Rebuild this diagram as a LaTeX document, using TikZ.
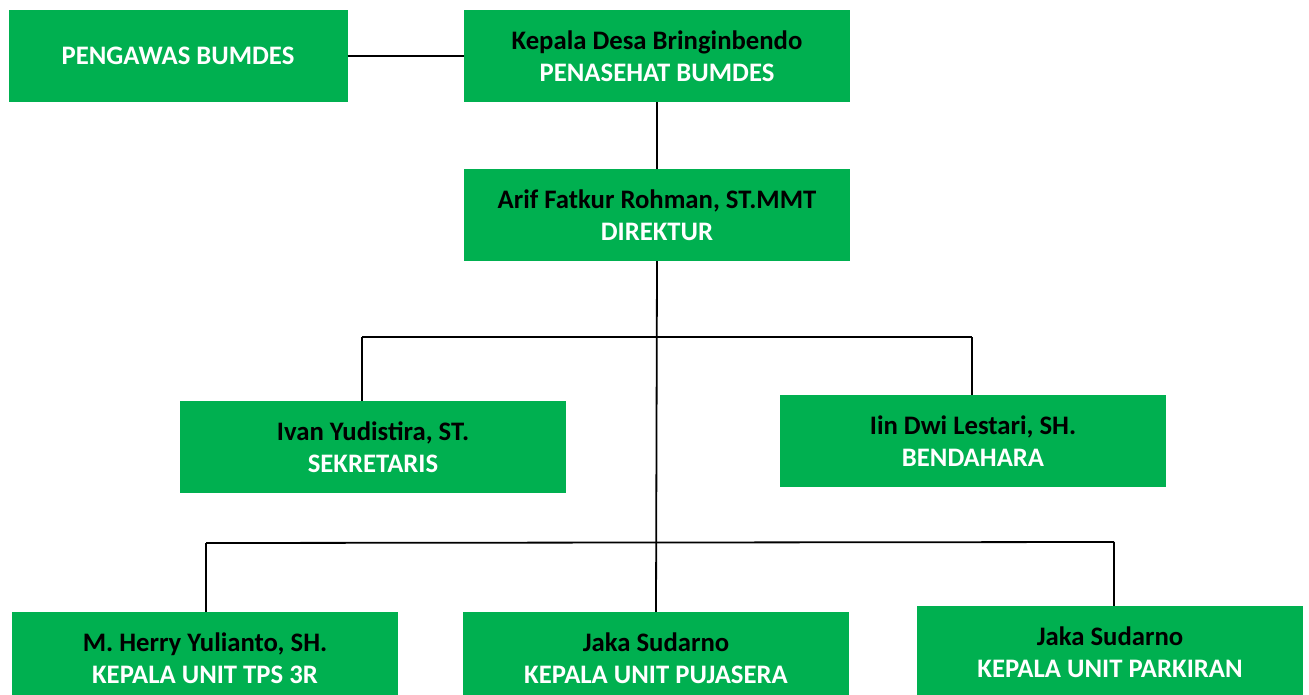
\documentclass[tikz,border=0pt]{standalone}
\usepackage{fontspec}
\setmainfont{Carlito}
\definecolor{boxgreen}{HTML}{00B050}
\begin{document}
\begin{tikzpicture}[x=1pt,y=-1pt,
  orgbox/.style={fill=boxgreen, draw=none, minimum width=386pt, minimum height=92pt, inner sep=0pt, align=center,
    font=\fontsize{26.7}{32}\selectfont\bfseries},
  link/.style={draw=black, line width=1.8pt}]
\clip (0,0) rectangle (1309,695);
\fill[white] (0,0) rectangle (1309,695);
\node[orgbox, minimum width=339pt, text=white] (peng) at (178,56) {PENGAWAS BUMDES};
\node[orgbox] (kep) at (657,56) {\textcolor{black}{Kepala Desa Bringinbendo}\\\textcolor{white}{PENASEHAT BUMDES}};
\node[orgbox] (dir) at (657,215) {\textcolor{black}{Arif Fatkur Rohman, ST.MMT}\\\textcolor{white}{DIREKTUR}};
\node[orgbox] (sek) at (373,447) {\textcolor{black}{Ivan Yudistira, ST.}\\\textcolor{white}{SEKRETARIS}};
\node[orgbox] (ben) at (973,441) {\textcolor{black}{Iin Dwi Lestari, SH.}\\\textcolor{white}{BENDAHARA}};
\node[orgbox] (tps) at (205,658) {\textcolor{black}{M. Herry Yulianto, SH.}\\\textcolor{white}{KEPALA UNIT TPS 3R}};
\node[orgbox] (puj) at (656,658) {\textcolor{black}{Jaka Sudarno}\\\textcolor{white}{KEPALA UNIT PUJASERA}};
\node[orgbox] (par) at (1110,652) {\textcolor{black}{Jaka Sudarno}\\\textcolor{white}{KEPALA UNIT PARKIRAN}};
\coordinate (sl) at (362,337);
\coordinate (sr) at (972,337);
\coordinate (ul) at (206,543);
\coordinate (ur) at (1114,542);
\draw[link] (peng.east) -- (kep.west);
\draw[link] (kep.south) -- (dir.north);
\draw[link] (dir.south) -- (puj.north);
\draw[link] (sl) -- (sr);
\draw[link] (sl) -- (sl |- sek.north);
\draw[link] (sr) -- (sr |- ben.north);
\draw[link] (ul) -- (ur);
\draw[link] (ul) -- (ul |- tps.north);
\draw[link] (ur) -- (ur |- par.north);
\end{tikzpicture}
\end{document}
